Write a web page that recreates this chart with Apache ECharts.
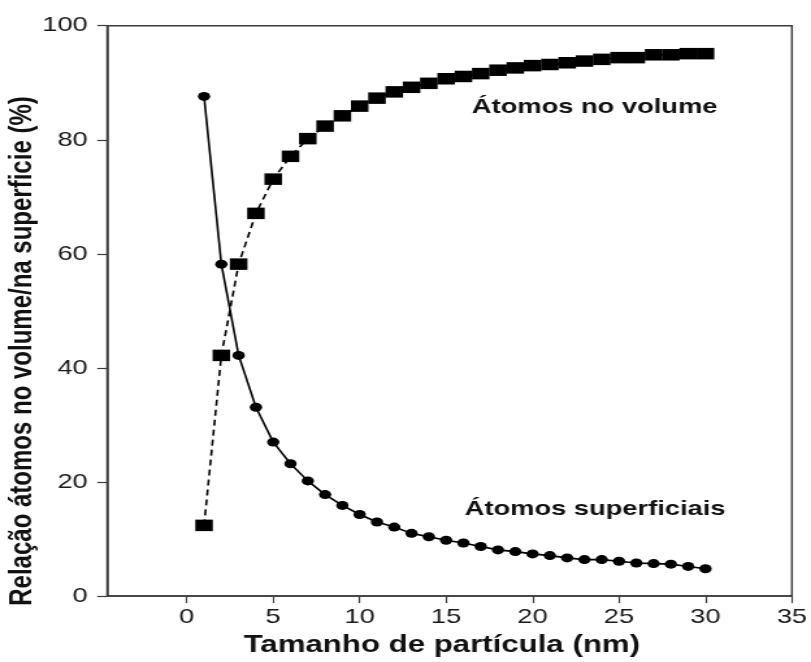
<!DOCTYPE html>
<html>
<head>
<meta charset="utf-8">
<script src="https://cdn.jsdelivr.net/npm/echarts@6/dist/echarts.min.js"></script>
<style>
  html, body { margin: 0; padding: 0; background: #fff; overflow: hidden; }
  /* the figure is drawn narrow and widened horizontally, like the printed plot */
  #chart { width: 624px; height: 662px; transform: scaleX(1.2997); transform-origin: 0 0; }
</style>
</head>
<body>
<div id="chart"></div>
<script>
// particle size (nm)
const particleSize = [1, 2, 3, 4, 5, 6, 7, 8, 9, 10, 11, 12, 13, 14, 15,
                      16, 17, 18, 19, 20, 21, 22, 23, 24, 25, 26, 27, 28, 29, 30];
// share of atoms inside the particle (%)
const volumeAtoms = [12.4, 42.2, 58.2, 67.1, 73.1, 77.1, 80.2, 82.4, 84.2, 85.9,
                     87.3, 88.4, 89.2, 89.9, 90.7, 91.1, 91.6, 92.2, 92.6, 93.0,
                     93.2, 93.5, 93.8, 94.1, 94.4, 94.4, 94.9, 94.9, 95.1, 95.1];
// share of atoms on the surface (%)
const surfaceAtoms = [87.6, 58.2, 42.2, 33.1, 27.0, 23.2, 20.2, 17.8, 15.9, 14.3,
                      13.0, 12.1, 11.0, 10.4, 9.8, 9.3, 8.7, 8.1, 7.8, 7.4,
                      7.1, 6.7, 6.4, 6.4, 6.1, 5.8, 5.7, 5.6, 5.2, 4.8];
const xTicks = [0, 5, 10, 15, 20, 25, 30, 35];
const yTicks = [0, 20, 40, 60, 80, 100];

const FONT = "'Liberation Sans', Arial, Helvetica, sans-serif";
const AXIS_COLOR = '#3c3c3c';

const pairs = (xs, ys) => xs.map((x, i) => [x, ys[i]]);

const chart = echarts.init(document.getElementById('chart'), null, { renderer: 'canvas' });

chart.setOption({
  animation: false,
  backgroundColor: '#ffffff',
  grid: {
    left: 82.5, right: 13.8, top: 25.7, bottom: 65.3,
    show: true, borderColor: AXIS_COLOR, borderWidth: 1.5
  },
  xAxis: {
    type: 'value',
    min: -4.6, max: 35,
    name: 'Tamanho de partícula (nm)',
    nameLocation: 'middle',
    nameGap: 30,
    nameTextStyle: { fontFamily: FONT, fontSize: 24, fontWeight: 'bold', color: '#111',
                     verticalAlign: 'top', padding: [0, 12, 0, 0] },
    axisLine: { onZero: false, lineStyle: { color: AXIS_COLOR, width: 1.5 } },
    axisTick: { show: true, customValues: xTicks, length: 7, lineStyle: { color: AXIS_COLOR, width: 1.2 } },
    axisLabel: { customValues: xTicks, margin: 11, fontFamily: FONT, fontSize: 21, color: '#1a1a1a' },
    splitLine: { show: false }
  },
  yAxis: {
    type: 'value',
    min: yTicks[0], max: yTicks[yTicks.length - 1], interval: 20,
    axisLine: { show: true, onZero: false, lineStyle: { color: AXIS_COLOR, width: 1.5 } },
    axisTick: { show: true, length: 7.7, lineStyle: { color: AXIS_COLOR, width: 1.2 } },
    axisLabel: { margin: 15, fontFamily: FONT, fontSize: 21, color: '#1a1a1a' },
    splitLine: { show: false }
  },
  graphic: [
    {
      type: 'text', x: 17.7, y: 351, rotation: Math.PI / 2,
      style: { text: 'Relação átomos no volume/na superficie (%)', fill: '#111',
               font: 'bold 24px ' + FONT, align: 'center', verticalAlign: 'middle' }
    },
    {
      type: 'text', x: 363, y: 107,
      style: { text: 'Átomos no volume', fill: '#111',
               font: 'bold 21px ' + FONT, align: 'left', verticalAlign: 'middle' }
    },
    {
      type: 'text', x: 357.5, y: 509,
      style: { text: 'Átomos superficiais', fill: '#111',
               font: 'bold 21px ' + FONT, align: 'left', verticalAlign: 'middle' }
    }
  ],
  series: [
    {
      name: 'Átomos no volume',
      type: 'line',
      data: pairs(particleSize, volumeAtoms),
      symbol: 'rect',
      symbolSize: [13.5, 11.5],
      showAllSymbol: true,
      itemStyle: { color: '#000' },
      lineStyle: { color: '#000', width: 1.6, type: [6, 4] },
      z: 3
    },
    {
      name: 'Átomos superficiais',
      type: 'line',
      data: pairs(particleSize, surfaceAtoms),
      symbol: 'circle',
      symbolSize: [9.5, 9],
      showAllSymbol: true,
      itemStyle: { color: '#000' },
      lineStyle: { color: '#000', width: 1.6 },
      z: 4
    }
  ]
});
</script>
</body>
</html>
